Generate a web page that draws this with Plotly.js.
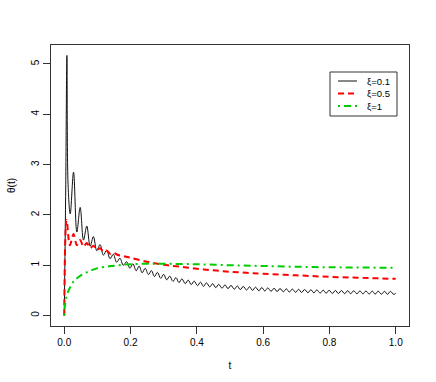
<!DOCTYPE html>
<html>
<head>
<meta charset="utf-8">
<script src="https://cdn.plot.ly/plotly-3.0.1.min.js"></script>
<style>html,body{margin:0;padding:0;background:#fff}</style>
</head>
<body>
<div id="theta" style="width:436px;height:382px"></div>
<script>
// xi = 0.1 : peaks and troughs
var t1 = [0, 0.0045, 0.008, 0.0115, 0.018, 0.028, 0.038, 0.048, 0.058, 0.068, 0.078, 0.088, 0.098,
          0.108, 0.118, 0.128, 0.138, 0.148, 0.158, 0.168, 0.178, 0.188, 0.198,
          0.207, 0.217, 0.226, 0.235, 0.244, 0.254, 0.263, 0.272, 0.281, 0.291,
          0.300, 0.309, 0.318, 0.328, 0.337, 0.346, 0.355, 0.365, 0.374, 0.383,
          0.392, 0.402, 0.411, 0.420, 0.429, 0.439, 0.448, 0.457, 0.466, 0.476,
          0.485, 0.494, 0.503, 0.513, 0.522, 0.531, 0.540, 0.550, 0.559, 0.568,
          0.577, 0.587, 0.596, 0.605, 0.614, 0.624, 0.633, 0.642, 0.651, 0.661,
          0.670, 0.679, 0.688, 0.698, 0.707, 0.716, 0.725, 0.735, 0.744, 0.753,
          0.762, 0.772, 0.781, 0.790, 0.799, 0.809, 0.818, 0.827, 0.836, 0.846,
          0.855, 0.864, 0.873, 0.883, 0.892, 0.901, 0.910, 0.920, 0.929, 0.938,
          0.947, 0.957, 0.966, 0.975, 0.984, 0.994, 1.000]
var th1 = [0, 2.6, 5.17, 2.6, 2.02, 2.85, 1.66, 2.15, 1.50, 1.78, 1.38, 1.57, 1.29,
           1.41, 1.20, 1.30, 1.13, 1.22, 1.06, 1.14, 1.00, 1.07, 0.94,
           1.03, 0.89, 0.985, 0.85, 0.94, 0.815, 0.895, 0.775, 0.86, 0.74,
           0.82, 0.71, 0.785, 0.68, 0.755, 0.655, 0.73, 0.635, 0.705, 0.615,
           0.685, 0.595, 0.665, 0.58, 0.65, 0.57, 0.635, 0.555, 0.62, 0.545,
           0.61, 0.535, 0.60, 0.525, 0.588, 0.516, 0.58, 0.508, 0.572, 0.50,
           0.564, 0.494, 0.557, 0.488, 0.55, 0.482, 0.544, 0.477, 0.538, 0.472,
           0.532, 0.467, 0.527, 0.463, 0.522, 0.459, 0.518, 0.455, 0.514, 0.451,
           0.51, 0.447, 0.506, 0.444, 0.502, 0.44, 0.499, 0.438, 0.497, 0.436,
           0.495, 0.434, 0.493, 0.432, 0.491, 0.43, 0.489, 0.428, 0.487, 0.426,
           0.485, 0.424, 0.483, 0.422, 0.481, 0.42, 0.445]

// xi = 0.5
var t2 = [0, 0.007, 0.017, 0.028, 0.038, 0.048, 0.058, 0.068, 0.078, 0.088, 0.098,
          0.108, 0.118, 0.128, 0.138, 0.148, 0.16, 0.18, 0.2, 0.25, 0.3, 0.35,
          0.4, 0.45, 0.5, 0.55, 0.6, 0.7, 0.8, 0.9, 1.0]
var th2 = [0, 1.90, 1.40, 1.62, 1.40, 1.50, 1.37, 1.44, 1.34, 1.39, 1.31,
           1.34, 1.27, 1.29, 1.23, 1.25, 1.21, 1.18, 1.15, 1.07, 1.01, 0.97,
           0.93, 0.90, 0.87, 0.85, 0.83, 0.80, 0.77, 0.75, 0.73]

// xi = 1
var t3 = [0, 0.002, 0.005, 0.01, 0.02, 0.03, 0.05, 0.075, 0.1, 0.125, 0.15,
          0.175, 0.2, 0.25, 0.3, 0.4, 0.5, 0.6, 0.7, 0.8, 0.9, 1.0]
var th3 = [0, 0.2, 0.32, 0.45, 0.59, 0.69, 0.80, 0.88, 0.94, 0.97, 0.99,
           1.01, 1.02, 1.03, 1.03, 1.02, 1.0, 0.985, 0.97, 0.96, 0.955, 0.95]

var names = ['ξ=0.1', 'ξ=0.5', 'ξ=1']
var colors = ['#111111', '#ff0000', '#00cd00']
var widths = [1, 2, 2]
var dashes = ['solid', '6px,4px', '2px,4px,7px,4px']

var data = [
    {x: t1, y: th1, mode: 'lines', name: names[0],
     line: {color: colors[0], width: widths[0], dash: dashes[0], shape: 'spline', smoothing: 1}},
    {x: t2, y: th2, mode: 'lines', name: names[1],
     line: {color: colors[1], width: widths[1], dash: dashes[1], shape: 'spline'}},
    {x: t3, y: th3, mode: 'lines', name: names[2],
     line: {color: colors[2], width: widths[2], dash: dashes[2], shape: 'spline'}}
];

// hand made legend box (R style, tight rows), in pixels of the page
var W = 436, H = 382
var mg = {l: 51, r: 27, t: 45, b: 56}
function px(x) { return (x - mg.l) / (W - mg.l - mg.r) }
function py(y) { return 1 - (y - mg.t) / (H - mg.t - mg.b) }

var leg = {x0: 330, x1: 397, y0: 72, y1: 116, row0: 81, rowH: 12.5, lx0: 338, lx1: 357, tx: 366}
var shapes = [{type: 'rect', xref: 'paper', yref: 'paper',
               x0: px(leg.x0), x1: px(leg.x1), y0: py(leg.y1), y1: py(leg.y0),
               line: {color: '#333', width: 1}, fillcolor: '#fff'}]
var annotations = []
for (var i = 0; i < names.length; i++) {
    var yy = py(leg.row0 + i * leg.rowH)
    shapes.push({type: 'line', xref: 'paper', yref: 'paper',
                 x0: px(leg.lx0), x1: px(leg.lx1), y0: yy, y1: yy,
                 line: {color: colors[i], width: widths[i], dash: dashes[i]}})
    annotations.push({xref: 'paper', yref: 'paper', x: px(leg.tx), y: yy,
                      xanchor: 'left', yanchor: 'middle', showarrow: false, borderpad: 0,
                      text: names[i], font: {size: 9.5, color: '#000'}})
}

var axisStyle = {
    showline: true,
    mirror: true,
    linecolor: '#333',
    linewidth: 1,
    showgrid: false,
    zeroline: false,
    ticks: 'outside',
    ticklen: 7,
    tickcolor: '#333',
    tickfont: {size: 10, color: '#000'}
};

var layout = {
    width: W,
    height: H,
    margin: mg,
    paper_bgcolor: '#fff',
    plot_bgcolor: '#fff',
    font: {family: 'Liberation Sans, Arial, sans-serif', size: 10, color: '#000'},
    showlegend: false,
    shapes: shapes,
    annotations: annotations,
    xaxis: Object.assign({}, axisStyle, {
        range: [-0.04, 1.04],
        tickvals: [0, 0.2, 0.4, 0.6, 0.8, 1.0],
        tickformat: '.1f',
        title: {text: 't', font: {size: 10}, standoff: 14}
    }),
    yaxis: Object.assign({}, axisStyle, {
        range: [-0.207, 5.377],
        tickvals: [0, 1, 2, 3, 4, 5],
        tickangle: -90,
        title: {text: 'θ(t)', font: {size: 10}, standoff: 12}
    })
};

var config = {staticPlot: true}

Plotly.newPlot('theta', data, layout, config);
</script>
</body>
</html>
